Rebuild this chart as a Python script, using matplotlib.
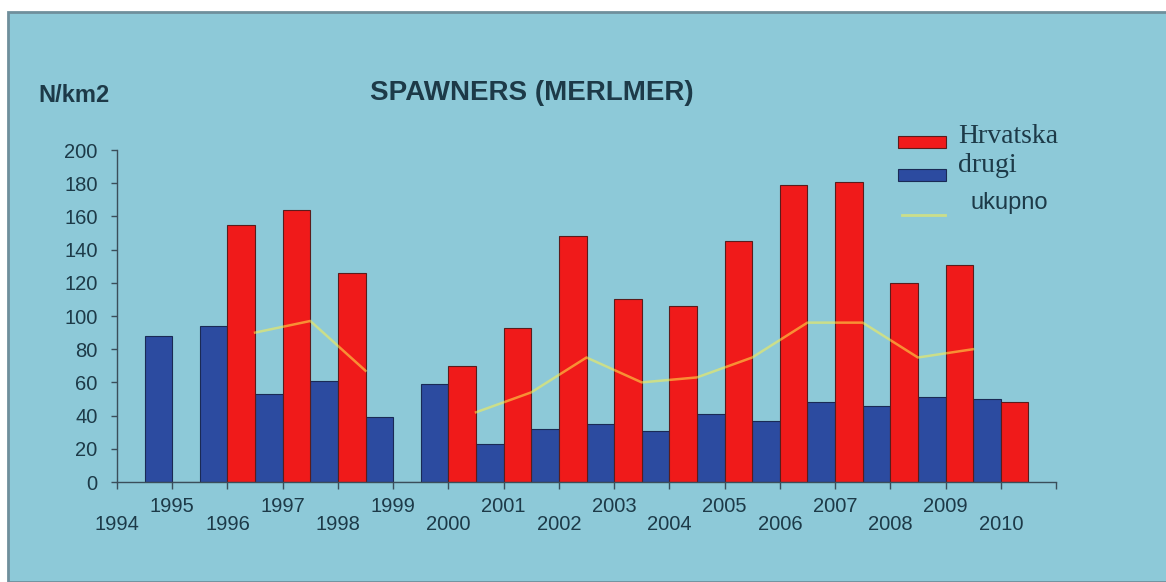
import matplotlib.pyplot as plt
from matplotlib.patches import Rectangle
from matplotlib.lines import Line2D
import numpy as np

# category positions on the axis, label per tick
years = ['1994', '1995', '1996', '1997', '1998', '1999', '2000', '2001', '2002',
         '2003', '2004', '2005', '2006', '2007', '2008', '2009', '2010']

# values, one per tick from 1995 to 2010
drugi = [88, 94, 53, 61, 39, 59, 23, 32, 35, 31, 41, 37, 48, 46, 51, 50]
hrvatska = [0, 155, 164, 126, 0, 70, 93, 148, 110, 106, 145, 179, 181, 120, 131, 48]
ukupno = [np.nan, 90, 97, 67, np.nan, 42, 54, 75, 60, 63, 75, 96, 96, 75, 80, np.nan]

bg = '#8dc9d8'
txt = '#1d3a48'
red = '#f01a1a'
blue = '#2c4ba0'

fig = plt.figure(figsize=(11.66, 5.82), dpi=100)
fig.patch.set_facecolor('white')
# light blue panel with a darker frame on top and left
fig.patches.append(Rectangle((8 / 1166, 0), 1, 1 - 12 / 582, transform=fig.transFigure,
                             facecolor=bg, edgecolor='#6f8f9c', linewidth=2, zorder=-5))

ax = fig.add_axes([117 / 1166, 100 / 582, 939 / 1166, 332 / 582])
ax.set_facecolor('none')
ax.set_zorder(2)

pos = np.arange(1, len(drugi) + 1)
w = 0.5
ax.bar(pos - w / 2, drugi, width=w, color=blue, edgecolor='#1a2a55', linewidth=0.8, zorder=2)
ax.bar(pos + w / 2, hrvatska, width=w, color=red, edgecolor='#5a1c1c', linewidth=0.8, zorder=2)
ax.plot(pos + w, ukupno, color='#fff04a', alpha=0.55, linewidth=1.8, zorder=3)

ax.set_xlim(0, 17)
ax.set_ylim(0, 200)
ax.set_yticks(range(0, 201, 20))
ax.set_xticks(range(0, 18))
ax.set_xticklabels(years + [''])

for s in ['top', 'right']:
    ax.spines[s].set_visible(False)
for s in ['left', 'bottom']:
    ax.spines[s].set_color('#3a4e5a')
    ax.spines[s].set_linewidth(1)

ax.tick_params(axis='y', length=4, width=1, color='#3a4e5a', pad=10,
               labelsize=14.5, labelcolor=txt)
ax.tick_params(axis='x', length=5, width=1, color='#3a4e5a',
               labelsize=14.5, labelcolor=txt)
for lab in ax.get_yticklabels() + ax.get_xticklabels():
    lab.set_family('Liberation Sans')
# staggered year labels
for i, t in enumerate(ax.xaxis.get_major_ticks()):
    t.set_pad(19 if i % 2 == 0 else 6)

fig.text(532 / 1166, 1 - 93 / 582, 'SPAWNERS (MERLMER)', ha='center', va='center',
         fontsize=20, fontweight='bold', color=txt, family='Liberation Sans')
fig.text(38 / 1166, 1 - 95 / 582, 'N/km2', ha='left', va='center',
         fontsize=17, fontweight='bold', color=txt, family='Liberation Sans')

# legend drawn by hand
fig.patches.append(Rectangle((898 / 1166, 1 - 148 / 582), 48 / 1166, 12 / 582,
                             transform=fig.transFigure, facecolor=red,
                             edgecolor='#5a1c1c', linewidth=0.8))
fig.patches.append(Rectangle((898 / 1166, 1 - 181 / 582), 48 / 1166, 12 / 582,
                             transform=fig.transFigure, facecolor=blue,
                             edgecolor='#1a2a55', linewidth=0.8))
fig.lines.append(Line2D([902 / 1166, 945 / 1166], [1 - 215 / 582, 1 - 215 / 582],
                        transform=fig.transFigure, color='#fff04a', alpha=0.55, linewidth=2))
fig.text(958 / 1166, 1 - 136 / 582, 'Hrvatska', ha='left', va='center',
         fontsize=20, color=txt, family='Liberation Serif')
fig.text(958 / 1166, 1 - 165 / 582, 'drugi', ha='left', va='center',
         fontsize=20, color=txt, family='Liberation Serif')
fig.text(970 / 1166, 1 - 203 / 582, 'ukupno', ha='left', va='center',
         fontsize=17, color=txt, family='Liberation Sans')

fig.savefig('out.png', dpi=100, facecolor=fig.get_facecolor())
